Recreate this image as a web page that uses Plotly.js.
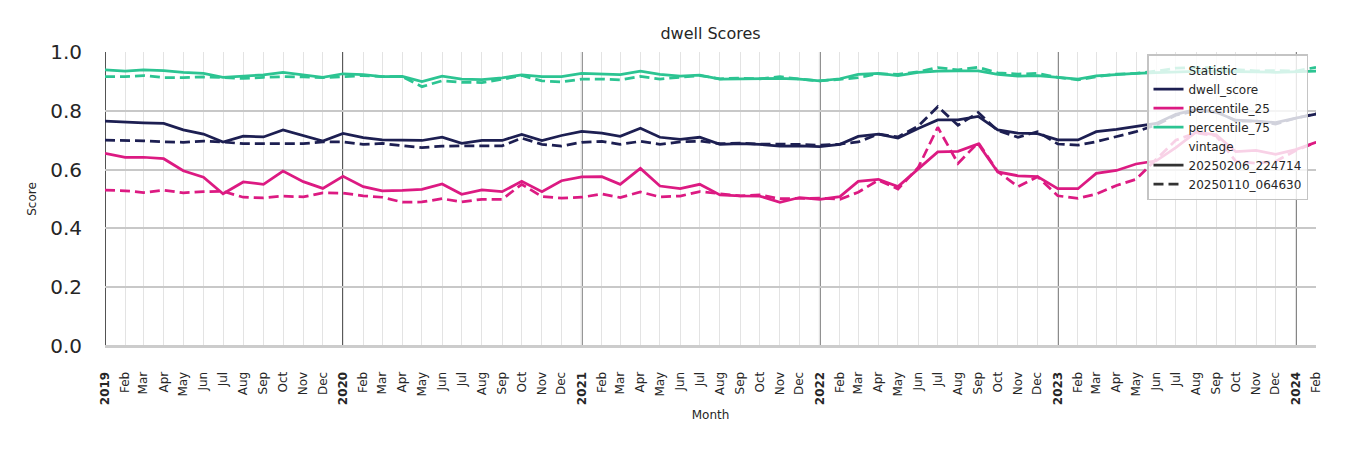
<!DOCTYPE html>
<html><head><meta charset="utf-8">
<script src="https://cdn.plot.ly/plotly-3.0.1.min.js"></script>
<style>html,body{margin:0;padding:0;background:#fff}#chart{width:1350px;height:450px}</style>
</head><body><div id="chart"></div>
<script>
const months = [
"2019-01-01","2019-02-01","2019-03-01","2019-04-01","2019-05-01","2019-06-01","2019-07-01","2019-08-01","2019-09-01","2019-10-01","2019-11-01","2019-12-01",
"2020-01-01","2020-02-01","2020-03-01","2020-04-01","2020-05-01","2020-06-01","2020-07-01","2020-08-01","2020-09-01","2020-10-01","2020-11-01","2020-12-01",
"2021-01-01","2021-02-01","2021-03-01","2021-04-01","2021-05-01","2021-06-01","2021-07-01","2021-08-01","2021-09-01","2021-10-01","2021-11-01","2021-12-01",
"2022-01-01","2022-02-01","2022-03-01","2022-04-01","2022-05-01","2022-06-01","2022-07-01","2022-08-01","2022-09-01","2022-10-01","2022-11-01","2022-12-01",
"2023-01-01","2023-02-01","2023-03-01","2023-04-01","2023-05-01","2023-06-01","2023-07-01","2023-08-01","2023-09-01","2023-10-01","2023-11-01","2023-12-01",
"2024-01-01","2024-02-01"];
const tickLabels = [
"<b>2019</b>","Feb","Mar","Apr","May","Jun","Jul","Aug","Sep","Oct","Nov","Dec",
"<b>2020</b>","Feb","Mar","Apr","May","Jun","Jul","Aug","Sep","Oct","Nov","Dec",
"<b>2021</b>","Feb","Mar","Apr","May","Jun","Jul","Aug","Sep","Oct","Nov","Dec",
"<b>2022</b>","Feb","Mar","Apr","May","Jun","Jul","Aug","Sep","Oct","Nov","Dec",
"<b>2023</b>","Feb","Mar","Apr","May","Jun","Jul","Aug","Sep","Oct","Nov","Dec",
"<b>2024</b>","Feb"];
const yearStarts = ["2019-01-01","2020-01-01","2021-01-01","2022-01-01","2023-01-01","2024-01-01"];

// vintage 20250206_224714 (solid)
const dwellNew = [0.765,0.761,0.759,0.757,0.735,0.721,0.694,0.714,0.711,0.735,0.715,0.697,
0.723,0.709,0.701,0.699,0.699,0.710,0.689,0.699,0.699,0.720,0.699,0.716,
0.730,0.724,0.713,0.741,0.710,0.703,0.710,0.686,0.688,0.686,0.680,0.681,
0.678,0.686,0.713,0.721,0.707,0.740,0.769,0.769,0.781,0.735,0.724,0.722,
0.701,0.701,0.729,0.737,0.748,0.757,0.788,0.805,0.795,0.768,0.765,0.760,
0.775,0.789];
const p25New = [0.655,0.642,0.642,0.637,0.596,0.574,0.518,0.558,0.550,0.595,0.559,0.536,
0.577,0.542,0.528,0.529,0.533,0.551,0.516,0.531,0.525,0.560,0.525,0.562,
0.575,0.576,0.550,0.604,0.544,0.535,0.550,0.514,0.511,0.510,0.489,0.505,
0.499,0.508,0.560,0.567,0.542,0.601,0.660,0.662,0.687,0.592,0.579,0.576,
0.535,0.535,0.587,0.597,0.619,0.630,0.675,0.727,0.718,0.661,0.665,0.652,
0.668,0.693];
const p75New = [0.939,0.935,0.939,0.937,0.931,0.927,0.914,0.918,0.922,0.931,0.922,0.914,
0.926,0.923,0.916,0.917,0.899,0.918,0.908,0.906,0.912,0.922,0.916,0.916,
0.927,0.925,0.923,0.935,0.924,0.918,0.921,0.908,0.909,0.909,0.910,0.908,
0.902,0.909,0.924,0.927,0.920,0.931,0.935,0.936,0.936,0.924,0.918,0.920,
0.913,0.908,0.919,0.924,0.927,0.930,0.933,0.934,0.934,0.932,0.932,0.931,
0.933,0.935];

// vintage 20250110_064630 (dashed)
const dwellOld = [0.700,0.699,0.698,0.694,0.693,0.697,0.694,0.688,0.688,0.688,0.688,0.694,
0.694,0.686,0.689,0.681,0.675,0.680,0.681,0.681,0.681,0.707,0.686,0.680,
0.693,0.696,0.686,0.696,0.686,0.694,0.697,0.688,0.690,0.687,0.687,0.686,
0.683,0.687,0.694,0.721,0.711,0.748,0.814,0.751,0.794,0.733,0.710,0.729,
0.687,0.683,0.695,0.711,0.729,0.752,0.785,0.800,0.800,0.765,0.765,0.755,
0.775,0.790];
const p25Old = [0.530,0.528,0.522,0.530,0.521,0.525,0.526,0.506,0.504,0.510,0.507,0.521,
0.520,0.511,0.506,0.489,0.490,0.501,0.490,0.499,0.499,0.550,0.508,0.503,
0.506,0.517,0.505,0.524,0.507,0.510,0.525,0.518,0.511,0.514,0.501,0.502,
0.503,0.499,0.523,0.564,0.534,0.607,0.744,0.621,0.692,0.593,0.542,0.576,
0.511,0.502,0.517,0.546,0.567,0.635,0.700,0.725,0.715,0.628,0.622,0.628,
0.665,0.693];
const p75Old = [0.916,0.916,0.920,0.913,0.913,0.915,0.913,0.910,0.914,0.916,0.915,0.913,
0.916,0.920,0.916,0.916,0.882,0.902,0.897,0.896,0.907,0.920,0.902,0.898,
0.908,0.908,0.905,0.917,0.908,0.913,0.920,0.909,0.911,0.909,0.916,0.908,
0.902,0.907,0.913,0.926,0.924,0.933,0.947,0.939,0.948,0.929,0.925,0.927,
0.914,0.905,0.916,0.925,0.927,0.935,0.945,0.947,0.946,0.940,0.936,0.937,
0.935,0.948];

const statNames = ["dwell_score","percentile_25","percentile_75"];
const vintages = ["20250206_224714","20250110_064630"];
const colors = {"dwell_score":"#1d1f52","percentile_25":"#dc1a82","percentile_75":"#2cc492"};
const LW = 2.75;
const DASH = "10px,5px";

const series = [
  ["dwell_score", 0, dwellNew], ["percentile_25", 0, p25New], ["percentile_75", 0, p75New],
  ["dwell_score", 1, dwellOld], ["percentile_25", 1, p25Old], ["percentile_75", 1, p75Old]
];
const traces = series.map(([stat, v, ys]) => ({
  type: "scatter", mode: "lines", x: months, y: ys,
  line: {color: colors[stat], width: LW, dash: v === 0 ? "solid" : DASH},
  showlegend: false, hoverinfo: "x+y"
}));

function legendItem(name, color, dash) {
  return {type: "scatter", mode: "lines", x: [null], y: [null], name: name,
    line: {color: color, width: LW, dash: dash || "solid"}, showlegend: true, hoverinfo: "skip"};
}
const transparent = "rgba(0,0,0,0)";
traces.push(legendItem("Statistic", transparent));
statNames.forEach(s => traces.push(legendItem(s, colors[s])));
traces.push(legendItem("vintage", transparent));
traces.push(legendItem(vintages[0], "#333333"));
traces.push(legendItem(vintages[1], "#333333", DASH));

const shapes = yearStarts.map(d => ({
  type: "line", xref: "x", yref: "paper", x0: d, x1: d, y0: 0, y1: 1,
  line: {color: "#1a1a1a", width: 1.5}, layer: "between"
}));

const layout = {
  width: 1350, height: 450,
  margin: {l: 105, r: 34, t: 52, b: 104},
  paper_bgcolor: "#ffffff", plot_bgcolor: "#ffffff",
  font: {family: "DejaVu Sans", color: "#262626"},
  title: {text: "dwell Scores", font: {size: 16, color: "#262626"},
    x: 0.5, xref: "paper", xanchor: "center", y: 1 - 33/450, yref: "container", yanchor: "middle"},
  xaxis: {
    type: "date", range: [months[0], months[months.length - 1]],
    tickmode: "array", tickvals: months, ticktext: tickLabels,
    tickangle: -90, tickfont: {size: 12, color: "#262626"},
    ticks: "outside", ticklen: 20, tickcolor: transparent,
    showgrid: true, gridcolor: "#e3e3e3", gridwidth: 1,
    zeroline: false, showline: false, automargin: true,
    title: {text: "Month", font: {size: 12, color: "#262626"}, standoff: 6}
  },
  yaxis: {
    range: [0, 1], tickvals: [0, 0.2, 0.4, 0.6, 0.8, 1.0],
    ticktext: ["0.0","0.2","0.4","0.6","0.8","1.0"],
    tickfont: {size: 20, color: "#262626"},
    ticks: "outside", ticklen: 18, tickcolor: transparent,
    showgrid: true, gridcolor: "#c8c8c8", gridwidth: 2,
    zeroline: true, zerolinecolor: "#cccccc", zerolinewidth: 3,
    showline: false, automargin: true,
    title: {text: "Score", font: {size: 12, color: "#262626"}, standoff: 10}
  },
  shapes: shapes,
  showlegend: true,
  legend: {
    x: (1147 - 105) / 1211, y: (346 - 54) / 294, xanchor: "left", yanchor: "top",
    bgcolor: "rgba(255,255,255,0.8)", bordercolor: "#c4c4c4", borderwidth: 1.5,
    font: {size: 12, color: "#262626"}, itemwidth: 30, traceorder: "normal"
  }
};

Plotly.newPlot("chart", traces, layout, {displayModeBar: false, staticPlot: true});
</script>
</body></html>
